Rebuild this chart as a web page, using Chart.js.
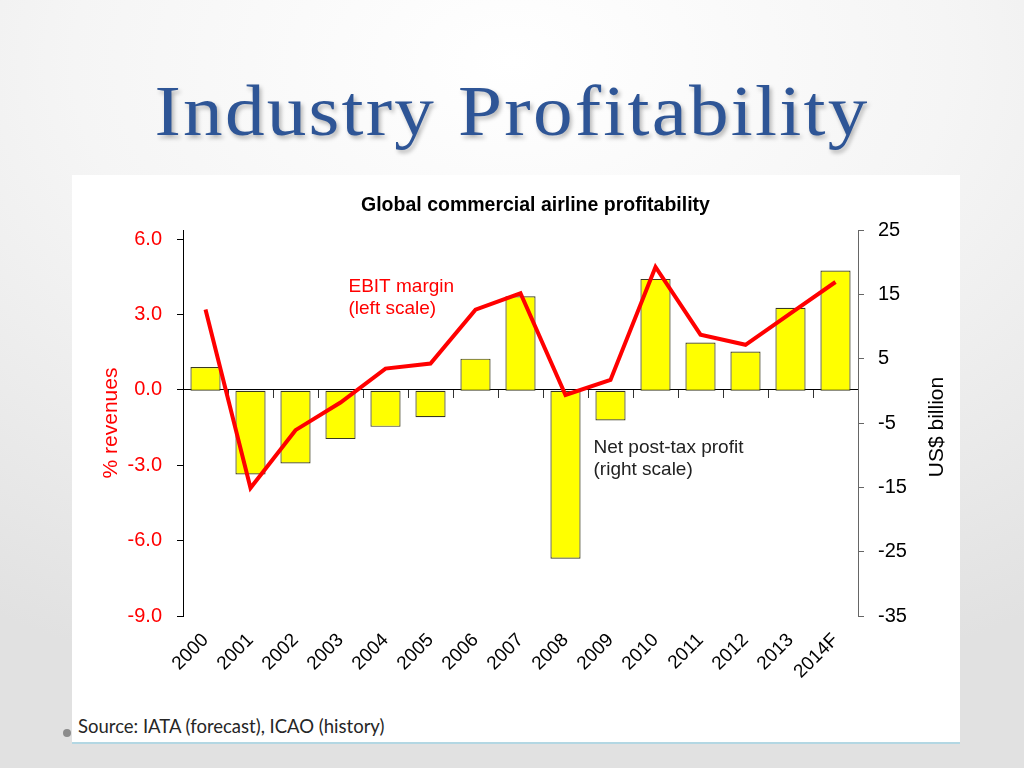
<!DOCTYPE html>
<html>
<head>
<meta charset="utf-8">
<title>Industry Profitability</title>
<script src="https://cdn.jsdelivr.net/npm/chart.js@4.4.1/dist/chart.umd.min.js"></script>
<style>
    html, body {
        margin: 0;
        padding: 0;
    }
    body {
        width: 1024px;
        height: 768px;
        position: relative;
        overflow: hidden;
        background: radial-gradient(ellipse 95% 85% at 50% 8%, #ffffff 0%, #f5f5f5 45%, #e1e1e1 100%);
    }
    .slide-title {
        position: absolute;
        left: 0;
        top: 75px;
        width: 1024px;
        margin: 0;
        text-align: center;
        font-family: "Liberation Serif", "Times New Roman", serif;
        font-weight: normal;
        font-size: 72px;
        line-height: 72px;
        letter-spacing: 2px;
        color: #2e5596;
        text-shadow: 2px 3px 4px rgba(0, 0, 0, 0.28);
        transform: scaleX(1.1);
        transform-origin: 512px 0;
    }
    .chart-panel {
        position: absolute;
        left: 72px;
        top: 175px;
        width: 888px;
        height: 567px;
        background: #ffffff;
        border-bottom: 2px solid #b3d7e3;
    }
    .chart-panel canvas {
        position: absolute;
        left: 0;
        top: 0;
    }
    .source {
        position: absolute;
        left: 78px;
        top: 716px;
        font-family: Lato, "Open Sans", sans-serif;
        font-size: 18.5px;
        line-height: 20px;
        color: #262626;
    }
    .bullet {
        position: absolute;
        left: 63px;
        top: 729px;
        width: 8px;
        height: 8px;
        border-radius: 50%;
        background: #8c8c8c;
    }
</style>
</head>
<body>
<h1 class="slide-title">Industry Profitability</h1>
<div class="chart-panel">
    <canvas id="profitChart" width="888" height="530"></canvas>
</div>
<div class="bullet"></div>
<div class="source">Source: IATA (forecast), ICAO (history)</div>

<script>
// Chart data
const years = ['2000', '2001', '2002', '2003', '2004', '2005', '2006', '2007',
    '2008', '2009', '2010', '2011', '2012', '2013', '2014F'];
const ebitMargin = [3.2, -3.9, -1.6, -0.5, 0.85, 1.05, 3.2, 3.85, -0.2, 0.4, 4.9, 2.2, 1.8, 3.05, 4.3];
const netProfit = [3.7, -13.0, -11.3, -7.5, -5.6, -4.1, 5.0, 14.7, -26.1, -4.6, 17.4, 7.5, 6.1, 12.9, 18.7];
const leftTicks = [6, 3, 0, -3, -6, -9];
const rightTicks = [25, 15, 5, -5, -15, -25, -35];

const FONT = '"Liberation Sans", Arial, sans-serif';
Chart.defaults.font.family = FONT;

// Texts drawn on the canvas: chart title, series notes, right axis title
const chartNotes = {
    id: 'chartNotes',
    afterDraw(chart) {
        const { ctx, chartArea, scales } = chart;
        ctx.save();

        // Title
        ctx.font = 'bold 19.5px ' + FONT;
        ctx.fillStyle = '#000';
        ctx.textAlign = 'center';
        ctx.textBaseline = 'middle';
        ctx.fillText('Global commercial airline profitability',
            (chartArea.left + chartArea.right) / 2 + 15, chartArea.top - 24);

        // EBIT margin note
        ctx.font = '19px ' + FONT;
        ctx.textAlign = 'left';
        ctx.fillStyle = '#ff0000';
        const ex = scales.x.getPixelForValue(3) + 8;
        const ey = scales.y.getPixelForValue(4.1);
        ctx.fillText('EBIT margin', ex, ey);
        ctx.fillText('(left scale)', ex, ey + 22);

        // Net profit note
        ctx.font = '19px ' + FONT;
        ctx.fillStyle = '#222';
        const nx = scales.x.getPixelForValue(9) - 17;
        const ny = scales.y1.getPixelForValue(-8.9);
        ctx.fillText('Net post-tax profit', nx, ny);
        ctx.fillText('(right scale)', nx, ny + 22);

        // Right axis title (reads bottom to top)
        ctx.font = '21px ' + FONT;
        ctx.fillStyle = '#000';
        ctx.textAlign = 'center';
        ctx.translate(chartArea.right + 79, (chartArea.top + chartArea.bottom) / 2 + 4);
        ctx.rotate(-Math.PI / 2);
        ctx.fillText('US$ billion', 0, 0);

        ctx.restore();
    }
};

// Render chart
function renderProfitChart() {
    const ctx = document.getElementById('profitChart');

    new Chart(ctx, {
        type: 'bar',
        data: {
            labels: years,
            datasets: [{
                type: 'line',
                label: 'EBIT margin',
                data: ebitMargin,
                yAxisID: 'y',
                borderColor: '#ff0000',
                borderWidth: 4,
                pointRadius: 0,
                tension: 0,
                order: 0
            }, {
                label: 'Net post-tax profit',
                data: netProfit,
                yAxisID: 'y1',
                backgroundColor: '#ffff00',
                borderColor: '#3a3a20',
                borderWidth: 1.2,
                borderSkipped: false,
                barPercentage: 0.67,
                categoryPercentage: 1,
                order: 1
            }]
        },
        options: {
            responsive: false,
            animation: false,
            layout: {
                padding: { top: 55, left: 0, right: 0, bottom: 0 }
            },
            plugins: {
                legend: { display: false },
                title: { display: false },
                tooltip: { enabled: false }
            },
            scales: {
                x: {
                    type: 'category',
                    offset: true,
                    grid: { display: false, drawTicks: false },
                    border: { display: false },
                    ticks: {
                        autoSkip: false,
                        maxRotation: 45,
                        minRotation: 45,
                        padding: 13,
                        color: '#000',
                        font: { size: 19 }
                    },
                    afterFit: function(scale) {
                        scale.height = 89;
                    }
                },
                x2: {
                    type: 'category',
                    position: { y: 0 },
                    offset: true,
                    grid: {
                        offset: true,
                        drawOnChartArea: false,
                        drawTicks: true,
                        tickLength: 8,
                        color: '#333'
                    },
                    border: { display: true, color: '#000', width: 1 },
                    ticks: { display: false }
                },
                y: {
                    position: 'left',
                    min: -9,
                    max: 6.37,
                    afterBuildTicks: function(scale) {
                        scale.ticks = leftTicks.map(v => ({ value: v }));
                    },
                    grid: {
                        drawOnChartArea: false,
                        drawTicks: true,
                        tickLength: 6,
                        color: '#000'
                    },
                    border: { display: true, color: '#000', width: 1 },
                    ticks: {
                        padding: 15,
                        color: '#ff0000',
                        font: { size: 20 },
                        callback: function(value) {
                            return Number(value).toFixed(1);
                        }
                    },
                    title: {
                        display: true,
                        text: '% revenues',
                        color: '#ff0000',
                        font: { size: 21 },
                        padding: { top: 27, bottom: 0 }
                    },
                    afterFit: function(scale) {
                        scale.width = 111;
                    }
                },
                y1: {
                    position: 'right',
                    min: -35,
                    max: 25,
                    afterBuildTicks: function(scale) {
                        scale.ticks = rightTicks.map(v => ({ value: v }));
                    },
                    grid: {
                        drawOnChartArea: false,
                        drawTicks: true,
                        tickLength: 6,
                        color: '#666'
                    },
                    border: { display: true, color: '#666', width: 1 },
                    ticks: {
                        padding: 14,
                        color: '#000',
                        font: { size: 20 }
                    },
                    afterFit: function(scale) {
                        scale.width = 102;
                    }
                }
            }
        },
        plugins: [chartNotes]
    });
}

document.addEventListener('DOMContentLoaded', renderProfitChart);
</script>
</body>
</html>
